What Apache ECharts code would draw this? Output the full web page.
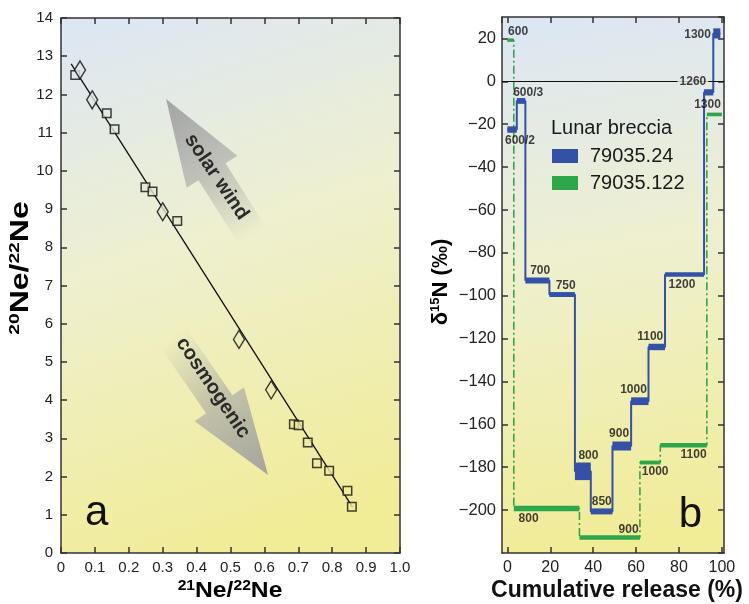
<!DOCTYPE html>
<html><head><meta charset="utf-8">
<script src="https://cdn.jsdelivr.net/npm/echarts@6/dist/echarts.min.js"></script>
<style>html,body{margin:0;padding:0;background:#fff}#c{width:749px;height:604px}</style>
</head><body><div id="c"></div>
<script>
// ---------- Panel a : Ne three-isotope plot ----------
const squaresNe = [[0.042,12.51],[0.135,11.51],[0.158,11.09],[0.249,9.57],[0.270,9.46],[0.343,8.69],[0.687,3.37],[0.701,3.34],[0.728,2.89],[0.755,2.35],[0.791,2.15],[0.845,1.63],[0.858,1.21]];
const diamondsNe = [[0.056,12.64],[0.092,11.86],[0.300,8.93],[0.525,5.59],[0.620,4.27]];
const trendNe = [[0.03,12.8],[0.86,1.2]];

// ---------- Panel b : step release (boundaries in % cumulative release) ----------
const blueBounds = [0,4.4,8.4,19.6,31.5,38.9,49,57.7,65.8,73.5,91.7,96,99.3];
const blueHigh = [-21,-7.8,-91.5,-98.3,-177.8,-199.2,-168,-147.4,-122.4,-89,-3.7,24.7];
const blueLow  = [-24,-10.5,-94.3,-100.6,-186,-202,-172.2,-151,-125.4,-91.2,-6.6,20];
const blueTemps = ['600/2','600/3','700','750','800','850','900','1000','1100','1200','1260','1300'];
const greenBounds = [0,3,33.6,61.8,71.3,93,100];
const greenHigh = [20,-198,-211.7,-176.9,-168.7,-14.6];
const greenLow  = [18.4,-200.5,-213.8,-178.7,-170.8,-16.3];
const greenTemps = ['600','800','900','1000','1100','1300'];
// label anchors (data coordinates)
const blueLabelAt = [[5.9,-27.6],[9.7,-5.3],[15.3,-88.4],[27.2,-95.1],[37.8,-174.7],[44,-196],[52.1,-164.5],[58.8,-143.8],[66.6,-118.9],[81.4,-94.7],[86.5,0],[88.7,21.9]];
const greenLabelAt = [[5,23.3],[9.9,-203.8],[56.5,-209],[68.9,-182],[86.8,-174.2],[93.3,-10.9]];

const BLUE = '#3451a8', GREEN = '#2ea64a';
const FONT = 'Liberation Sans, Arial, sans-serif';

function stepData(b, hi, lo){ return hi.map((h,i)=>[b[i], b[i+1], h, lo[i]]); }
function connector(b, hi, lo){
  const out=[];
  hi.forEach((h,i)=>{ const m=(h+lo[i])/2; out.push([b[i],m]); out.push([b[i+1],m]); });
  return out;
}
function labels(at, txt){ return at.map((p,i)=>({value:p, name:txt[i]})); }

const renderStep = (params, api) => {
  const p0 = api.coord([api.value(0), api.value(2)]);
  const p1 = api.coord([api.value(1), api.value(3)]);
  return {type:'rect', shape:{x:p0[0], y:p0[1], width:p1[0]-p0[0], height:p1[1]-p0[1]},
          style:{fill: api.visual('color')}};
};

const axisCommon = {
  axisLine:{show:true, onZero:false, lineStyle:{color:'#333', width:1.5}},
  axisTick:{show:true, inside:true, length:6, lineStyle:{color:'#333', width:1.5}},
  splitLine:{show:false},
  axisLabel:{color:'#222', fontSize:15, fontFamily:FONT}
};
const minus = v => String(v).replace('-', '\u2212');

function bg(x2,y2){
  return {type:'linear', x:0, y:0, x2:x2, y2:y2, colorStops:[
    {offset:0, color:'#dce6f5'}, {offset:0.45, color:'#eef0cf'}, {offset:1, color:'#f1ec96'}]};
}

const chart = echarts.init(document.getElementById('c'), null, {renderer:'canvas'});

function mixBg(x, y){ // approximate background colour behind a marker
  const t = Math.min(1, Math.max(0, (x*0.4 + (1 - y/14))/1.2));
  const a=[221,231,244], b=[241,237,154];
  const c=a.map((v,i)=>Math.round(v+(b[i]-v)*t));
  return 'rgb('+c.join(',')+')';
}

const option = {
  animation:false,
  backgroundColor:'#fff',
  grid:[
    {left:61, top:18, width:339, height:535, show:true, borderWidth:0, backgroundColor:bg(0.5,1)},
    {left:502, top:17, width:222, height:536, show:true, borderWidth:0, backgroundColor:bg(0.4,1)}
  ],
  xAxis:[
    Object.assign({}, axisCommon, {type:'value', gridIndex:0, min:0, max:1, interval:0.1,
      axisLabel:Object.assign({}, axisCommon.axisLabel, {margin:7, formatter:v=> v===0?'0':v.toFixed(1)})}),
    Object.assign({}, axisCommon, {type:'value', gridIndex:0, position:'top', min:0, max:1, interval:0.1,
      axisLabel:{show:false}}),
    Object.assign({}, axisCommon, {type:'value', gridIndex:1, min:-2.5, max:101, splitNumber:5,
      axisLabel:Object.assign({}, axisCommon.axisLabel, {fontSize:16, margin:7, showMinLabel:false, showMaxLabel:false,
        formatter:v=> (Math.abs(v%20)<1e-6 ? String(v) : '')})}),
    Object.assign({}, axisCommon, {type:'value', gridIndex:1, position:'top', min:-2.5, max:101, splitNumber:5,
      axisLabel:{show:false}})
  ],
  yAxis:[
    Object.assign({}, axisCommon, {type:'value', gridIndex:0, min:0, max:14, interval:1,
      axisLabel:Object.assign({}, axisCommon.axisLabel, {margin:8})}),
    Object.assign({}, axisCommon, {type:'value', gridIndex:0, position:'right', min:0, max:14, interval:1,
      axisLabel:{show:false}}),
    Object.assign({}, axisCommon, {type:'value', gridIndex:1, min:-220, max:30, interval:20,
      axisLabel:Object.assign({}, axisCommon.axisLabel, {fontSize:16.5, margin:6, showMinLabel:false, showMaxLabel:false,
        formatter:v=> (Math.abs(v%20)<1e-6 && v>-220 && v<30 ? minus(v) : '')})}),
    Object.assign({}, axisCommon, {type:'value', gridIndex:1, position:'right', min:-220, max:30, interval:20,
      axisLabel:{show:false}})
  ],
  legend:{
    show:true, orient:'vertical', left:552, top:146, padding:0, itemWidth:26, itemHeight:14, itemGap:7,
    selectedMode:false, icon:'rect',
    textStyle:{fontSize:20, color:'#1a1a1a', fontFamily:FONT, padding:[0,0,0,7]},
    data:['79035.24','79035.122']
  },
  series:[
    {type:'line', xAxisIndex:0, yAxisIndex:0, data:trendNe, symbol:'none', silent:true,
      lineStyle:{color:'#111', width:1.3}, z:2},
    {type:'scatter', xAxisIndex:0, yAxisIndex:0, data:squaresNe, symbol:'rect', symbolSize:8.5,
      itemStyle:{color:p=>mixBg(p.value[0],p.value[1]), borderColor:'#111', borderWidth:1.5}, z:3},
    {type:'scatter', xAxisIndex:0, yAxisIndex:0, data:diamondsNe, symbol:'diamond', symbolSize:[11,18],
      itemStyle:{color:p=>mixBg(p.value[0],p.value[1]), borderColor:'#111', borderWidth:1.5}, z:3},

    // green connectors (dash-dot)
    {type:'line', xAxisIndex:2, yAxisIndex:2, data:connector(greenBounds,greenHigh,greenLow), symbol:'none',
      silent:true, lineStyle:{color:GREEN, width:1.6, type:[8,3,2,3]}, z:2},
    // blue connectors
    {type:'line', xAxisIndex:2, yAxisIndex:2, data:connector(blueBounds,blueHigh,blueLow), symbol:'none',
      silent:true, lineStyle:{color:BLUE, width:2}, z:2,
      markLine:{silent:true, symbol:'none', label:{show:false}, lineStyle:{color:'#111', width:1.2, type:'solid'},
        data:[{yAxis:0}]}},
    {name:'79035.122', type:'custom', xAxisIndex:2, yAxisIndex:2, renderItem:renderStep,
      data:stepData(greenBounds,greenHigh,greenLow), itemStyle:{color:GREEN}, z:4},
    {name:'79035.24', type:'custom', xAxisIndex:2, yAxisIndex:2, renderItem:renderStep,
      data:stepData(blueBounds,blueHigh,blueLow), itemStyle:{color:BLUE}, z:4},
    {type:'scatter', xAxisIndex:2, yAxisIndex:2, symbolSize:0, silent:true, z:6,
      data:labels(blueLabelAt, blueTemps),
      label:{show:true, position:'inside', formatter:'{b}', fontSize:12, fontWeight:'bold', color:'#111', fontFamily:FONT},
      labelLayout:{hideOverlap:false}},
    {type:'scatter', xAxisIndex:2, yAxisIndex:2, symbolSize:0, silent:true, z:6,
      data:labels(greenLabelAt, greenTemps),
      label:{show:true, position:'inside', formatter:'{b}', fontSize:12, fontWeight:'bold', color:'#111', fontFamily:FONT}}
  ]
};
// mask the zero line behind "1260"
option.series[7].data[10].label = {backgroundColor:'#e4eae8', padding:[1,2]};
chart.setOption(option);

// ---------- annotations ----------
const solarArrow = {tail:[0.565,8.3], tip:[0.31,11.88]};
const cosmoArrow = {tail:[0.330,5.65], tip:[0.611,2.04]};
function arrowShape(a){
  const t = chart.convertToPixel({gridIndex:0}, a.tail);
  const h = chart.convertToPixel({gridIndex:0}, a.tip);
  const dx=h[0]-t[0], dy=h[1]-t[1], L=Math.hypot(dx,dy);
  const u=[dx/L,dy/L], n=[-u[1],u[0]];
  const H=86, hw=30, sw=16;
  const b=[h[0]-u[0]*H, h[1]-u[1]*H];
  const pts=[h,[b[0]+n[0]*hw,b[1]+n[1]*hw],[b[0]+n[0]*sw,b[1]+n[1]*sw],[t[0]+n[0]*sw,t[1]+n[1]*sw],
             [t[0]-n[0]*sw,t[1]-n[1]*sw],[b[0]-n[0]*sw,b[1]-n[1]*sw],[b[0]-n[0]*hw,b[1]-n[1]*hw]];
  return {type:'polygon', shape:{points:pts}, z:1, silent:true,
    style:{fill:{type:'linear', global:true, x:t[0], y:t[1], x2:h[0], y2:h[1], colorStops:[
      {offset:0, color:'rgba(160,160,160,0)'},{offset:0.45, color:'rgba(160,160,160,0.55)'},{offset:1, color:'rgba(160,160,160,0.95)'}]}}};
}
function px(g, p){ return chart.convertToPixel({gridIndex:g}, p); }
const solarText = [0.459,9.84], cosmoText = [0.448,4.32];
const rot = -56*Math.PI/180;
const st = px(0, solarText), ct = px(0, cosmoText);
const aPos = px(0,[0.105,1.04]), bPos = px(1,[85.3,-202.3]);
function supRich(main, sup){ return {
  b:{fontSize:main, fontWeight:'bold', fontFamily:FONT, color:'#111', lineHeight:main+2},
  s:{fontSize:sup, fontWeight:'bold', fontFamily:FONT, color:'#111', verticalAlign:'top', lineHeight:main+2}
};}
chart.setOption({graphic:[
  arrowShape(solarArrow), arrowShape(cosmoArrow),
  {type:'text', x:st[0], y:st[1], rotation:rot, z:2, silent:true,
    style:{text:'solar wind', fontSize:20, fontWeight:'bold', fontFamily:FONT, fill:'#2a2a2a', align:'center', verticalAlign:'middle'}},
  {type:'text', x:ct[0], y:ct[1], rotation:rot, z:2, silent:true,
    style:{text:'cosmogenic', fontSize:20, fontWeight:'bold', fontFamily:FONT, fill:'#2a2a2a', align:'center', verticalAlign:'middle'}},
  {type:'text', x:aPos[0], y:aPos[1], z:5, silent:true,
    style:{text:'a', fontSize:42, fontFamily:FONT, fill:'#111', align:'center', verticalAlign:'middle'}},
  {type:'text', x:bPos[0], y:bPos[1], z:5, silent:true,
    style:{text:'b', fontSize:42, fontFamily:FONT, fill:'#111', align:'center', verticalAlign:'middle'}},
  {type:'text', x:551, y:128, z:5, silent:true,
    style:{text:'Lunar breccia', fontSize:20, fontFamily:FONT, fill:'#1a1a1a', align:'left', verticalAlign:'middle'}},
  // axis titles
  {type:'text', x:230, y:591, scaleX:1.12, z:5, silent:true,
    style:{text:'{s|21}{b|Ne/}{s|22}{b|Ne}', rich:supRich(22,14), align:'center', verticalAlign:'middle'}},
  {type:'text', x:21, y:268, rotation:Math.PI/2, scaleX:1.28, z:5, silent:true,
    style:{text:'{s|20}{b|Ne/}{s|22}{b|Ne}', rich:supRich(25,15), align:'center', verticalAlign:'middle'}},
  {type:'text', x:617, y:591, z:5, silent:true,
    style:{text:'Cumulative release (%)', fontSize:23, fontWeight:'bold', fontFamily:FONT, fill:'#111', align:'center', verticalAlign:'middle'}},
  {type:'text', x:441, y:282, rotation:Math.PI/2, z:5, silent:true,
    style:{text:'{b|\u03b4}{s|15}{b|N (\u2030)}', rich:supRich(22,13), align:'center', verticalAlign:'middle'}}
]});
</script></body></html>
